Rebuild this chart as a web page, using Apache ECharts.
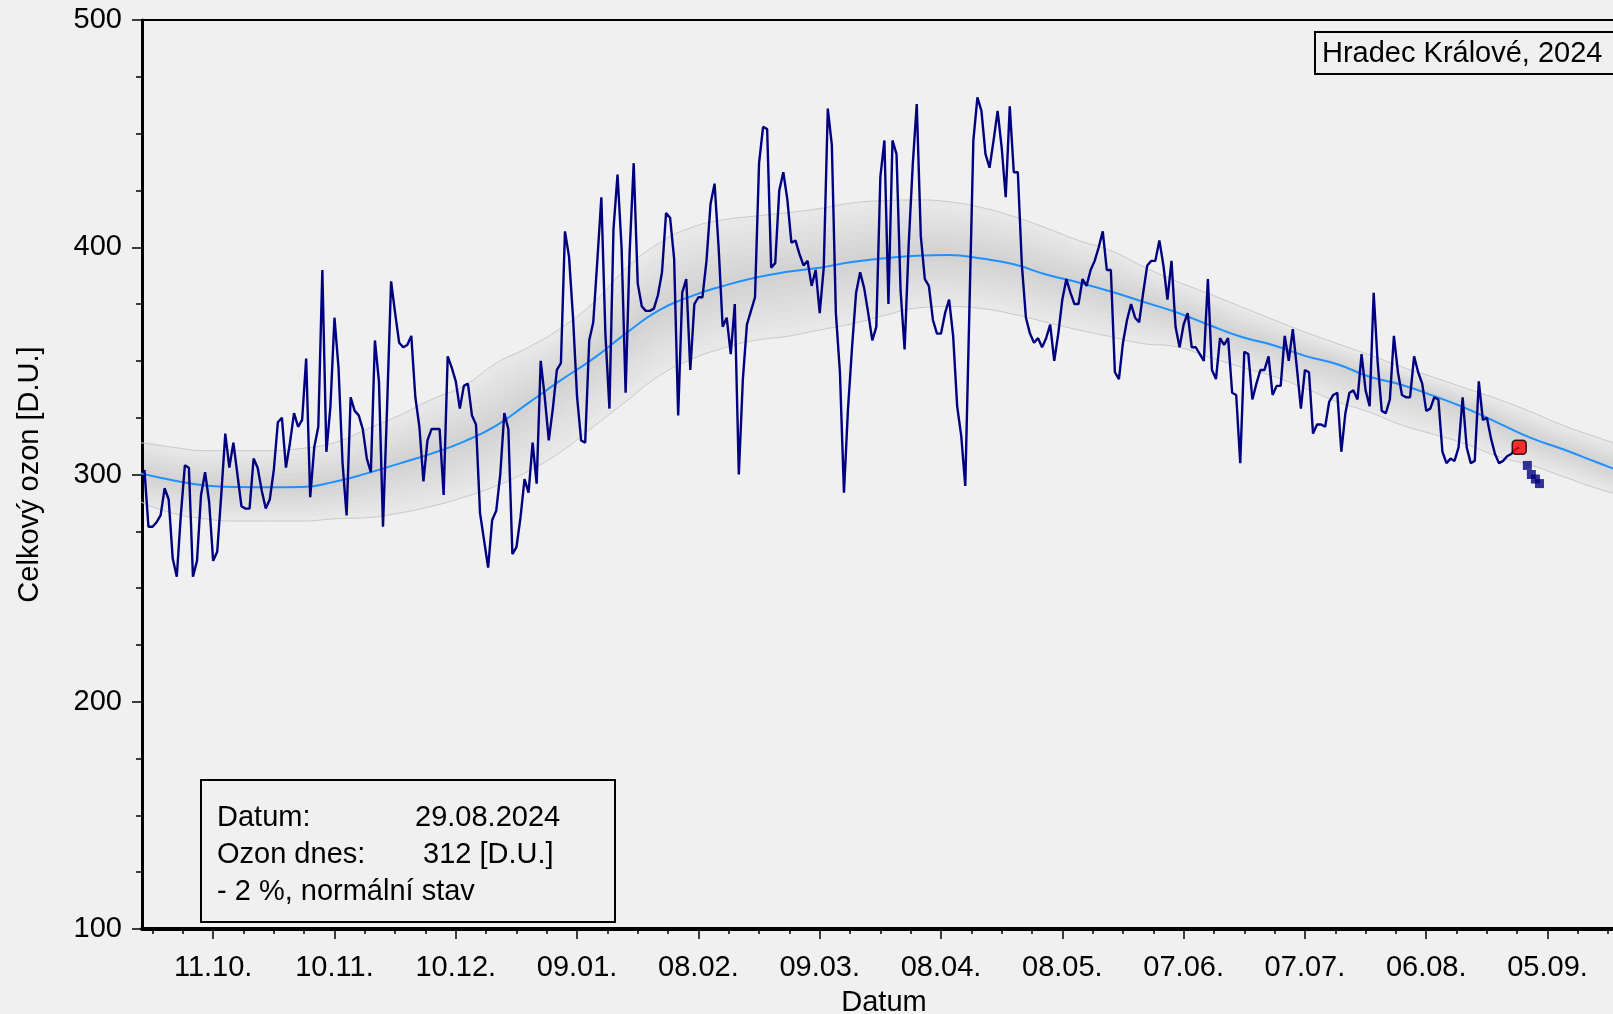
<!DOCTYPE html>
<html>
<head>
<meta charset="utf-8">
<title>Celkový ozon – Hradec Králové</title>
<script src="https://cdn.jsdelivr.net/npm/echarts@6.0.0/dist/echarts.min.js"></script>
<style>
  html, body { margin: 0; padding: 0; background: #f0f0f0; overflow: hidden; }
  #chart { width: 1613px; height: 1014px; }
</style>
</head>
<body>
<div id="chart"></div>
<script>
// Day numbers are counted from 11.10.2023 (day 0).
const BASE_UTC = Date.UTC(2023, 9, 11);
const FIRST_DAY = -17;               // 24.09.2023

// Daily total ozone [D.U.], grouped by calendar month
const ozoneSep = [302, 277, 277, 279, 282, 294, 289];
const ozoneOct = [263, 255, 282, 304, 303, 255, 262, 291, 301, 288, 262, 266, 291, 318, 303, 314,
                  300, 286, 285, 285, 307, 303, 293, 285, 289, 302, 323, 325, 303, 314, 327];
const ozoneNov = [321, 324, 351, 290, 312, 321, 390, 310, 330, 369, 347, 305, 282, 334, 328,
                  326, 320, 307, 301, 359, 341, 277, 329, 385, 371, 358, 356, 357, 361, 334];
const ozoneDec = [321, 297, 315, 320, 320, 320, 291, 352, 347, 341, 329, 339, 340, 326, 322, 283,
                  271, 259, 280, 284, 300, 327, 320, 265, 268, 281, 298, 292, 314, 296, 350];
const ozoneJan = [334, 315, 329, 346, 349, 407, 396, 369, 334, 315, 314, 359, 367, 394, 422, 362,
                  329, 408, 432, 400, 336, 398, 437, 384, 374, 372, 372, 373, 379, 389, 415];
const ozoneFeb = [413, 395, 326, 380, 386, 346, 375, 378, 378, 394, 419, 428, 400, 365, 369,
                  353, 375, 300, 342, 366, 372, 378, 437, 453, 452, 391, 393, 425, 433];
const ozoneMar = [421, 402, 403, 397, 392, 394, 383, 390, 371, 391, 461, 445, 371, 345, 292, 329,
                  356, 380, 389, 382, 371, 359, 365, 431, 447, 375, 447, 441, 381, 355, 401];
const ozoneApr = [436, 463, 405, 386, 383, 368, 362, 362, 371, 377, 361, 330, 317, 295, 371,
                  447, 466, 460, 441, 435, 447, 460, 444, 422, 462, 433, 433, 392, 369, 362];
const ozoneMay = [358, 360, 356, 360, 366, 350, 362, 377, 386, 380, 375, 375, 386, 383, 390, 394,
                  400, 407, 390, 390, 345, 342, 358, 368, 375, 369, 367, 380, 392, 394, 394];
const ozoneJun = [403, 392, 377, 394, 365, 356, 366, 371, 356, 356, 353, 350, 386, 346, 342,
                  360, 357, 360, 336, 335, 305, 354, 353, 333, 340, 346, 346, 352, 335, 339];
const ozoneJul = [339, 361, 350, 364, 347, 329, 346, 345, 318, 322, 322, 321, 332, 335, 336, 310,
                  327, 336, 337, 333, 353, 337, 330, 380, 349, 328, 327, 333, 361, 345, 335];
const ozoneAug = [334, 334, 352, 345, 340, 328, 329, 334, 333, 310, 305, 307, 306, 312, 334,
                  312, 305, 306, 341, 324, 325, 316, 309, 305, 306, 308, 309, 311, 312];

// Forecast for the following days
const forecastDays = [325, 326, 327, 328];
const forecastValues = [304, 300, 298, 296];

// Long-term normal and its band
const bandDays   = [-18, -10, -2, 6, 14, 22, 30, 38, 46, 54, 62, 70, 78, 86, 94, 102, 110, 118, 126, 134,
                    142, 150, 158, 166, 174, 182, 190, 198, 206, 214, 222, 230, 238, 246, 254, 262, 270,
                    278, 286, 294, 302, 310, 318, 326, 334, 342, 350];
const normalValues = [300.5, 297.5, 295.2, 294.5, 294.4, 294.5, 296.8, 300.5, 304.8, 309.2, 314.5, 321.5,
                    331.5, 341.5, 351, 362, 372, 378.3, 382.9, 386.6, 389.2, 391, 393.5, 395.2, 396.3,
                    396.6, 395, 392.5, 388, 384.5, 380.5, 376, 371.5, 366, 360.7, 357, 352.2, 348.5, 343,
                    339.4, 334.5, 329, 322.5, 316, 311, 305.5, 300];
const bandUpper  = [314, 312, 310.5, 310.5, 310.5, 311.5, 314, 320, 326, 333, 339, 349, 356, 364.5, 375.5,
                    390.5, 401.5, 408.5, 412, 413.7, 415.2, 417, 419.5, 420.5, 420.8, 420, 417.5, 413.5,
                    408.5, 403, 398.5, 391.5, 385.2, 379.7, 374, 368.3, 362.7, 357.6, 352.6, 347.3,
                    342.7, 337.8, 333, 327.5, 321.5, 316.5, 311.5];
const bandLower  = [288, 283, 280.5, 279.5, 279.5, 279.5, 280.5, 281, 283, 286, 290, 295, 301.5, 310, 321,
                    332, 343, 350.5, 355.5, 359, 360.8, 363.6, 366.3, 370, 373.2, 373.9,
                    373, 370.5, 367, 363.6, 360.6, 357.6, 356.3, 351.8, 347.4, 343.3, 337.9, 332, 327.4,
                    321.7, 317.6, 313.3, 307.8, 304, 299, 294, 290];

// Axis ticks
const labelDays = [0, 30, 60, 90, 120, 150, 180, 210, 240, 270, 300, 330];
const minorDays = [-15, -7.5, 7.5, 15, 22.5, 37.5, 45, 52.5, 67.5, 75, 82.5, 97.5, 105, 112.5, 127.5, 135,
                   142.5, 157.5, 165, 172.5, 187.5, 195, 202.5, 217.5, 225, 232.5, 247.5, 255, 262.5,
                   277.5, 285, 292.5, 307.5, 315, 322.5, 337.5, 345];

const stationText = 'Hradec Králové, 2024';
const statusText = '- 2 %, normální stav';

// ---------------------------------------------------------------
const ozone = [].concat(ozoneSep, ozoneOct, ozoneNov, ozoneDec, ozoneJan, ozoneFeb,
                        ozoneMar, ozoneApr, ozoneMay, ozoneJun, ozoneJul, ozoneAug);
const ozoneData = ozone.map((v, i) => [FIRST_DAY + i, v]);
const today = ozoneData[ozoneData.length - 1];
const forecastData = forecastDays.map((d, i) => [d, forecastValues[i]]);
const normalData = bandDays.map((d, i) => [d, normalValues[i]]);
const upperData = bandDays.map((d, i) => [d, bandUpper[i]]);
const lowerData = bandDays.map((d, i) => [d, bandLower[i]]);

function pad(n) { return (n < 10 ? '0' : '') + n; }
function dayDate(d) { return new Date(BASE_UTC + d * 86400000); }
function dayLabel(d) {
  const t = dayDate(d);
  return pad(t.getUTCDate()) + '.' + pad(t.getUTCMonth() + 1) + '.';
}
const todayDate = dayDate(today[0]);
const todayText = pad(todayDate.getUTCDate()) + '.' + pad(todayDate.getUTCMonth() + 1) + '.' + todayDate.getUTCFullYear();

const FONT = '"Liberation Sans", Arial, sans-serif';
const FS = 29;
const X_MIN = -17.6, X_MAX = 349.4;

// The band is shaded in many thin nested layers so it darkens softly towards the normal line.
const BAND_LAYERS = [1, 0.875, 0.75, 0.625, 0.5, 0.375, 0.25, 0.125];
function renderBand(params, api) {
  const children = BAND_LAYERS.map(f => {
    const pts = [];
    for (let i = 0; i < bandDays.length; i++) {
      const n = normalValues[i];
      pts.push(api.coord([bandDays[i], n + (bandUpper[i] - n) * f]));
    }
    for (let i = bandDays.length - 1; i >= 0; i--) {
      const n = normalValues[i];
      pts.push(api.coord([bandDays[i], n - (n - bandLower[i]) * f]));
    }
    return {
      type: 'polygon',
      shape: { points: pts, smooth: 0.25 },
      style: { fill: f === 1 ? 'rgba(0,0,0,0.03)' : 'rgba(0,0,0,0.012)', stroke: null }
    };
  });
  return { type: 'group', children: children };
}

const chart = echarts.init(document.getElementById('chart'), null, { renderer: 'canvas' });
chart.setOption({
  backgroundColor: '#f0f0f0',
  animation: false,
  textStyle: { fontFamily: FONT, color: '#000' },
  grid: {
    left: 142, top: 20, width: 1484, height: 909,
    outerBoundsMode: 'none', containLabel: false,
    show: true, borderColor: '#000', borderWidth: 2, backgroundColor: 'transparent'
  },
  xAxis: [
    {
      type: 'value', min: X_MIN, max: X_MAX, position: 'bottom',
      name: 'Datum', nameLocation: 'middle', nameGap: 59,
      nameTextStyle: { fontSize: FS, color: '#000', fontFamily: FONT },
      axisLine: { show: true, onZero: false, lineStyle: { color: '#000', width: 4 } },
      axisTick: { show: true, customValues: labelDays, length: 10, lineStyle: { color: '#000', width: 1.5 } },
      axisLabel: { customValues: labelDays, formatter: v => dayLabel(v), fontSize: FS, color: '#000', margin: 24, fontFamily: FONT },
      splitLine: { show: false }
    },
    {
      type: 'value', min: X_MIN, max: X_MAX, position: 'bottom',
      axisLine: { show: false },
      axisTick: { show: true, customValues: minorDays, length: 5, lineStyle: { color: '#000', width: 1.5 } },
      axisLabel: { show: false },
      splitLine: { show: false }
    }
  ],
  yAxis: {
    type: 'value', min: 100, max: 500, interval: 100,
    name: 'Celkový ozon [D.U.]', nameLocation: 'middle', nameGap: 98,
    nameTextStyle: { fontSize: FS, color: '#000', fontFamily: FONT },
    axisLine: { show: true, onZero: false, lineStyle: { color: '#000', width: 3 } },
    axisTick: { show: true, length: 10, lineStyle: { color: '#000', width: 1.5 } },
    minorTick: { show: true, splitNumber: 4, length: 6, lineStyle: { color: '#000', width: 1.5 } },
    axisLabel: { fontSize: FS, color: '#000', margin: 20, fontFamily: FONT, padding: [3, 0, 0, 0] },
    splitLine: { show: false }
  },
  series: [
    {
      name: 'band', type: 'custom', renderItem: renderBand, data: [0],
      clip: true, silent: true, z: 1
    },
    {
      name: 'upper', type: 'line', data: upperData, smooth: true,
      showSymbol: false, silent: true, z: 1,
      lineStyle: { color: '#c8c8c8', width: 1 }
    },
    {
      name: 'lower', type: 'line', data: lowerData, smooth: true,
      showSymbol: false, silent: true, z: 1,
      lineStyle: { color: '#c8c8c8', width: 1 }
    },
    {
      name: 'normal', type: 'line', data: normalData, smooth: true,
      showSymbol: false, silent: true, z: 2,
      lineStyle: { color: '#1e90ff', width: 2 }
    },
    {
      name: 'ozone', type: 'line', data: ozoneData,
      showSymbol: false, silent: true, z: 3,
      lineStyle: { color: '#000080', width: 2.4 }
    },
    {
      name: 'forecast', type: 'scatter', data: forecastData,
      symbol: 'rect', symbolSize: 9, silent: true, z: 4,
      itemStyle: { color: '#000080' }
    },
    {
      name: 'today', type: 'scatter', data: [today],
      symbol: 'roundRect', symbolSize: 14, silent: true, z: 5,
      itemStyle: { color: '#ff0000', borderColor: '#000', borderWidth: 1.5 }
    }
  ],
  graphic: [
    {
      type: 'rect', left: 1314, top: 31, z: 10,
      shape: { width: 330, height: 42 },
      style: { fill: '#f0f0f0', stroke: '#000', lineWidth: 2 }
    },
    {
      type: 'text', left: 1322, top: 39, z: 11,
      style: { text: stationText, font: FS + 'px ' + FONT, fill: '#000' }
    },
    {
      type: 'rect', left: 200, top: 779, z: 10,
      shape: { width: 414, height: 142 },
      style: { fill: '#f0f0f0', stroke: '#000', lineWidth: 2 }
    },
    {
      type: 'text', left: 217, top: 803, z: 11,
      style: { text: 'Datum:', font: FS + 'px ' + FONT, fill: '#000' }
    },
    {
      type: 'text', left: 415, top: 803, z: 11,
      style: { text: todayText, font: FS + 'px ' + FONT, fill: '#000' }
    },
    {
      type: 'text', left: 217, top: 840, z: 11,
      style: { text: 'Ozon dnes:', font: FS + 'px ' + FONT, fill: '#000' }
    },
    {
      type: 'text', left: 423, top: 840, z: 11,
      style: { text: today[1] + ' [D.U.]', font: FS + 'px ' + FONT, fill: '#000' }
    },
    {
      type: 'text', left: 217, top: 877, z: 11,
      style: { text: statusText, font: FS + 'px ' + FONT, fill: '#000' }
    }
  ]
});
</script>
</body>
</html>
